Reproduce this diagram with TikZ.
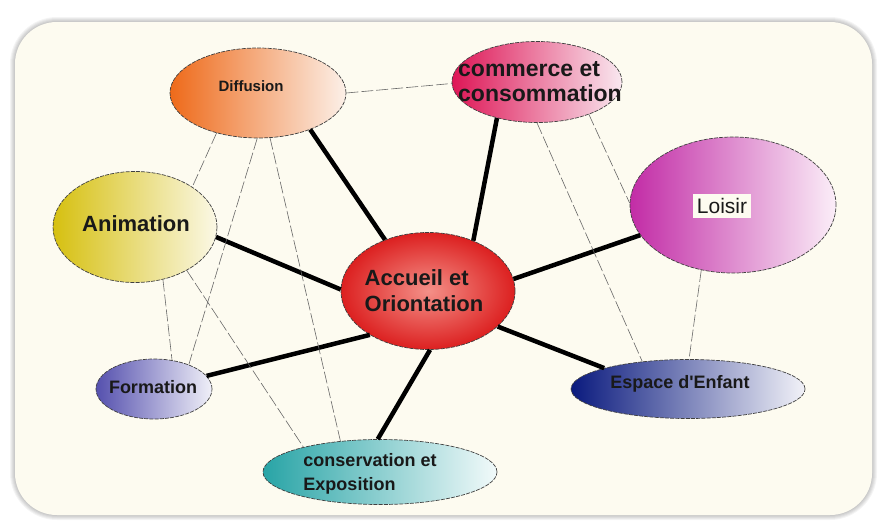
\documentclass[tikz,border=0pt]{standalone}
\usepackage{fontspec}
\setmainfont{Liberation Sans}[Ligatures=TeXOff]
\usetikzlibrary{shapes.geometric}
\definecolor{cream}{HTML}{FDFBF0}
\definecolor{difL}{HTML}{EE6A1A}
\definecolor{difR}{HTML}{FCF0E8}
\definecolor{comL}{HTML}{DE1656}
\definecolor{comR}{HTML}{F9E8F0}
\definecolor{loiL}{HTML}{C22CA6}
\definecolor{loiR}{HTML}{FBEEF8}
\definecolor{aniL}{HTML}{D6C010}
\definecolor{aniR}{HTML}{FBF8E6}
\definecolor{accI}{HTML}{F49088}
\definecolor{accO}{HTML}{DC2020}
\definecolor{forL}{HTML}{5550AE}
\definecolor{forR}{HTML}{F0F0F8}
\definecolor{espL}{HTML}{0A1A7E}
\definecolor{espR}{HTML}{F2F2F8}
\definecolor{conL}{HTML}{28A4A6}
\definecolor{conR}{HTML}{F2FAFA}
\begin{document}
\begin{tikzpicture}[x=1pt,y=-1pt,
  bub/.style={ellipse, inner sep=0pt, draw=black!75, dash pattern=on 4pt off 1.2pt,
    line width=0.7pt},
  lbl/.style={inner sep=0pt, text=black!90, align=left},
  strong/.style={line width=4.5pt, black},
  weak/.style={line width=0.6pt, black!60, dash pattern=on 12pt off 3pt}]
\useasboundingbox (0,0) rectangle (896,522);
\fill[white] (0,0) rectangle (896,522);
\foreach \w in {2,4,6,8,10}
  \draw[black, opacity=0.045, line width=\w pt, rounded corners=42pt] (15,22) rectangle (872,515);
\fill[cream, rounded corners=42pt] (15,22) rectangle (872,515);

% bubbles
\node[bub, minimum width=176pt, minimum height=90pt, left color=difL, right color=difR] (dif) at (258,93) {};
\node[bub, minimum width=170pt, minimum height=81pt, left color=comL, right color=comR] (com) at (537,82) {};
\node[bub, minimum width=206pt, minimum height=136pt, left color=loiL, right color=loiR] (loi) at (733,205) {};
\node[bub, minimum width=164pt, minimum height=111pt, left color=aniL, right color=aniR] (ani) at (135,227) {};
\node[bub, minimum width=174pt, minimum height=117pt, shading=radial, inner color=accI, outer color=accO] (acc) at (428,291) {};
\node[bub, minimum width=116pt, minimum height=60pt, left color=forL, right color=forR] (for) at (154,389) {};
\node[bub, minimum width=234pt, minimum height=59pt, left color=espL, right color=espR] (esp) at (688,389) {};
\node[bub, minimum width=234pt, minimum height=65pt, left color=conL, right color=conR] (con) at (380,472) {};

% labels
\node[lbl, font=\bfseries\fontsize{15}{18}\selectfont] (difT) at (251,86) {Diffusion};
\node[lbl, anchor=west, font=\bfseries\fontsize{23}{25}\selectfont] (comT) at (458,82) {commerce et\\consommation};
\node[lbl, font=\fontsize{21}{24}\selectfont, fill=cream, inner sep=4pt] (loiT) at (722,206) {Loisir};
\node[lbl, font=\bfseries\fontsize{22}{25}\selectfont] (aniT) at (136,224) {Animation};
\node[lbl, font=\bfseries\fontsize{22}{26}\selectfont] (accT) at (424,291) {Accueil et\\Oriontation};
\node[lbl, font=\bfseries\fontsize{18}{20}\selectfont] (forT) at (153,387) {Formation};
\node[lbl, font=\bfseries\fontsize{18}{20}\selectfont] (espT) at (680,384) {Espace d'Enfant};
\node[lbl, font=\bfseries\fontsize{18}{24}\selectfont] (conT) at (370,474) {conservation et\\Exposition};

% strong connectors
\draw[strong] (acc.130) -- (dif.-35);
\draw[strong] (acc.48) -- (com.-138);
\draw[strong] (acc.8.6) -- (loi.198.8);
\draw[strong] (acc.179) -- (ani.-7);
\draw[strong] (acc.217) -- (for.14);
\draw[strong] (acc.-27) -- (esp.166.6);
\draw[strong] (acc.-88) -- (con.94.6);

% weak connectors
\draw[weak] (dif.0.6) -- (com.181);
\draw[weak] (dif.224) -- (ani.35);
\draw[weak] (dif.-91) -- (for.35);
\draw[weak] (dif.-75) -- (con.142);
\draw[weak] (ani.-62.6) -- (for.58.7);
\draw[weak] (ani.-40) -- (con.162);
\draw[weak] (com.-90) -- (esp.149);
\draw[weak] (com.-32.5) -- (loi.179);
\draw[weak] (loi.-116) -- (esp.88);
\end{tikzpicture}
\end{document}
